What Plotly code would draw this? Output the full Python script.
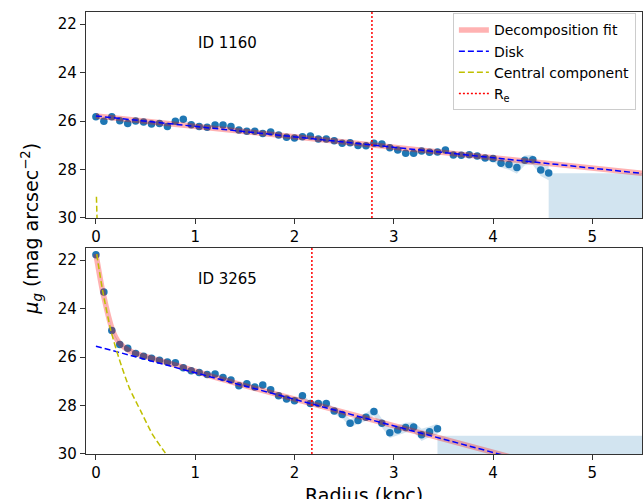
import plotly.graph_objects as go
from plotly.subplots import make_subplots

# ---------------- data ----------------
x_range = [-0.1, 5.5]
y_range = [30, 21.5]
y_ticks = [22, 24, 26, 28, 30]
x_ticks = [0, 1, 2, 3, 4, 5]

# ID 1160 (top panel)
top_label = "ID 1160"
top_r = [0.00, 0.08, 0.16, 0.24, 0.32, 0.40, 0.48, 0.56, 0.64, 0.72,
         0.80, 0.88, 0.96, 1.04, 1.12, 1.20, 1.28, 1.36, 1.44, 1.52,
         1.60, 1.68, 1.76, 1.84, 1.92, 2.00, 2.08, 2.16, 2.24, 2.32,
         2.40, 2.48, 2.56, 2.64, 2.72, 2.80, 2.88, 2.96, 3.04, 3.12,
         3.20, 3.28, 3.36, 3.44, 3.52, 3.60, 3.68, 3.76, 3.84, 3.92,
         4.00, 4.08, 4.16, 4.24, 4.32, 4.40, 4.48, 4.56]
top_mu = [25.82, 26.01, 25.82, 25.99, 26.10, 26.00, 26.04, 26.12, 26.10, 26.22,
          26.01, 25.93, 26.15, 26.22, 26.26, 26.16, 26.16, 26.23, 26.37, 26.42,
          26.42, 26.51, 26.45, 26.58, 26.67, 26.70, 26.65, 26.62, 26.74, 26.74,
          26.81, 26.92, 26.90, 27.01, 27.02, 26.92, 26.95, 27.10, 27.20, 27.33,
          27.33, 27.24, 27.29, 27.28, 27.20, 27.40, 27.41, 27.39, 27.44, 27.53,
          27.55, 27.74, 27.79, 27.92, 27.62, 27.60, 28.02, 28.14]
top_err = [0.04] * 41 + [0.06, 0.06, 0.07, 0.07, 0.08, 0.08, 0.09, 0.10,
                         0.10, 0.12, 0.18, 0.22, 0.25, 0.20, 0.20, 0.25, 0.30]
top_limit = 28.15
top_re = 2.78
top_disk_r = [0.0, 5.5]
top_disk_mu = [25.79, 28.16]
top_fit_r = [0.0, 5.5]
top_fit_mu = [25.79, 28.16]
top_central_r = [0.005, 0.013]
top_central_mu = [29.12, 30.3]

# ID 3265 (bottom panel)
bot_label = "ID 3265"
bot_r = [0.00, 0.08, 0.16, 0.24, 0.32, 0.40, 0.48, 0.56, 0.64, 0.72,
         0.80, 0.88, 0.96, 1.04, 1.12, 1.20, 1.28, 1.36, 1.44, 1.52,
         1.60, 1.68, 1.76, 1.84, 1.92, 2.00, 2.08, 2.16, 2.24, 2.32,
         2.40, 2.48, 2.56, 2.64, 2.72, 2.80, 2.88, 2.96, 3.04, 3.12,
         3.20, 3.28, 3.36, 3.44]
bot_mu = [21.78, 23.31, 24.90, 25.48, 25.64, 25.85, 25.97, 26.05, 26.13, 26.20,
          26.23, 26.44, 26.56, 26.64, 26.72, 26.70, 26.84, 26.95, 27.18, 27.10,
          27.24, 27.15, 27.35, 27.60, 27.73, 27.80, 27.60, 27.92, 27.92, 27.92,
          28.23, 28.37, 28.73, 28.62, 28.48, 28.25, 28.73, 29.12, 29.01, 28.91,
          28.89, 29.21, 29.08, 28.96]
bot_err = [0.04] * 23 + [0.06, 0.07, 0.08, 0.08, 0.08, 0.09, 0.10,
                         0.12, 0.14, 0.16, 0.16, 0.16, 0.18, 0.18,
                         0.22, 0.20, 0.20, 0.20, 0.25, 0.22, 0.22]
bot_limit = 29.25
bot_re = 2.175
bot_disk_r = [0.0, 5.5]
bot_disk_mu = [25.55, 31.58]
bot_fit_r = [0.0, 0.067, 0.168, 0.235, 0.335, 0.436, 0.571, 0.873, 1.2, 1.6, 5.5]
bot_fit_mu = [21.75, 23.27, 24.90, 25.41, 25.73, 25.90, 26.06, 26.42, 26.84, 27.29, 31.58]
bot_central_r = [0.008, 0.068, 0.152, 0.236, 0.337, 0.454, 0.572, 0.689, 0.75]
bot_central_mu = [21.75, 23.27, 24.93, 26.10, 27.28, 28.25, 29.21, 29.90, 30.25]

# ---------------- styles ----------------
FONT = "DejaVu Sans"
PT_COLOR = "#1f77b4"
BAND = "rgba(31,119,180,0.2)"
FIT_COLOR = "rgba(255,0,0,0.3)"
DISK_COLOR = "#0000ff"
CEN_COLOR = "#bfbf00"
RE_COLOR = "#ff0000"

fig = make_subplots(rows=2, cols=1, vertical_spacing=0.068)


def add_panel(row, r, mu, err, limit, re, disk_r, disk_mu, fit_r, fit_mu,
              cen_r, cen_mu, label, show):
    up = [m - e for m, e in zip(mu, err)]
    lo = [m + e for m, e in zip(mu, err)]
    # error band
    fig.add_trace(go.Scatter(x=r + r[::-1], y=up + lo[::-1], fill="toself",
                             fillcolor=BAND, line=dict(width=0), mode="lines",
                             hoverinfo="skip", showlegend=False), row=row, col=1)
    # region beyond the last point (below the limit)
    fig.add_trace(go.Scatter(x=[r[-1], x_range[1], x_range[1], r[-1]],
                             y=[limit, limit, y_range[0], y_range[0]],
                             fill="toself", fillcolor=BAND, line=dict(width=0),
                             mode="lines", hoverinfo="skip", showlegend=False),
                  row=row, col=1)
    # data points
    fig.add_trace(go.Scatter(x=r, y=mu, mode="markers",
                             marker=dict(color=PT_COLOR, size=7.5),
                             showlegend=False), row=row, col=1)
    # fit
    fig.add_trace(go.Scatter(x=fit_r, y=fit_mu, mode="lines",
                             line=dict(color=FIT_COLOR, width=5.5, shape="spline",
                                       smoothing=0.6),
                             name="Decomposition fit", showlegend=show,
                             legendrank=1), row=row, col=1)
    fig.add_trace(go.Scatter(x=disk_r, y=disk_mu, mode="lines",
                             line=dict(color=DISK_COLOR, width=1.5, dash="6px,3px"),
                             name="Disk", showlegend=show, legendrank=2),
                  row=row, col=1)
    fig.add_trace(go.Scatter(x=cen_r, y=cen_mu, mode="lines",
                             line=dict(color=CEN_COLOR, width=1.5, dash="6px,3px",
                                       shape="spline", smoothing=0.6),
                             name="Central component", showlegend=show,
                             legendrank=3), row=row, col=1)
    if show:
        fig.add_trace(go.Scatter(x=[None], y=[None], mode="lines",
                                 line=dict(color=RE_COLOR, width=1.5, dash="2px,2px"),
                                 name="R<sub>e</sub>", showlegend=True,
                                 legendrank=4), row=row, col=1)
    yref = "y domain" if row == 1 else "y2 domain"
    xref = "x" if row == 1 else "x2"
    fig.add_shape(type="line", x0=re, x1=re, y0=0, y1=1, xref=xref, yref=yref,
                  line=dict(color=RE_COLOR, width=1.5, dash="2px,2px"))
    fig.add_annotation(text=label, xref=xref + " domain", yref=yref,
                       x=0.198, y=0.85, xanchor="left", yanchor="middle",
                       showarrow=False, font=dict(family=FONT, size=15, color="black"))


add_panel(1, top_r, top_mu, top_err, top_limit, top_re, top_disk_r, top_disk_mu,
          top_fit_r, top_fit_mu, top_central_r, top_central_mu, top_label, True)
add_panel(2, bot_r, bot_mu, bot_err, bot_limit, bot_re, bot_disk_r, bot_disk_mu,
          bot_fit_r, bot_fit_mu, bot_central_r, bot_central_mu, bot_label, False)

axis_common = dict(showline=True, linecolor="#333", linewidth=1.2, mirror=True,
                   ticks="outside", ticklen=5, tickwidth=1.2, tickcolor="#333",
                   showgrid=False, zeroline=False,
                   tickfont=dict(family=FONT, size=15, color="black"))
for i in (1, 2):
    fig.update_xaxes(range=x_range, tickvals=x_ticks, row=i, col=1, **axis_common)
    fig.update_yaxes(range=y_range, tickvals=y_ticks, row=i, col=1, **axis_common)

fig.add_annotation(text="<i>μ<sub>g</sub></i> (mag arcsec<sup>−2</sup>)",
                   xref="paper", yref="paper", x=-0.097, y=0.51, textangle=-90,
                   showarrow=False, xanchor="center", yanchor="middle",
                   font=dict(family=FONT, size=19, color="black"))
fig.add_annotation(text="Radius (kpc)", xref="paper", yref="paper", x=0.5, y=-0.093,
                   showarrow=False, xanchor="center", yanchor="middle",
                   font=dict(family=FONT, size=19, color="black"))

fig.update_layout(
    width=643, height=499,
    margin=dict(l=86, r=1, t=12, b=45),
    paper_bgcolor="white", plot_bgcolor="white",
    font=dict(family=FONT, color="black"),
    legend=dict(x=0.989, y=0.997, xanchor="right", yanchor="top",
                bgcolor="rgba(255,255,255,0.85)", bordercolor="#cccccc",
                borderwidth=1, font=dict(family=FONT, size=14, color="black"),
                tracegroupgap=0, itemwidth=30),
)

# remove the page's default body margin so the figure fills the window exactly
fig.write_html(
    "out.html",
    config={"displayModeBar": False},
    post_script="document.body.style.margin='0px';document.body.style.overflow='hidden';",
)
